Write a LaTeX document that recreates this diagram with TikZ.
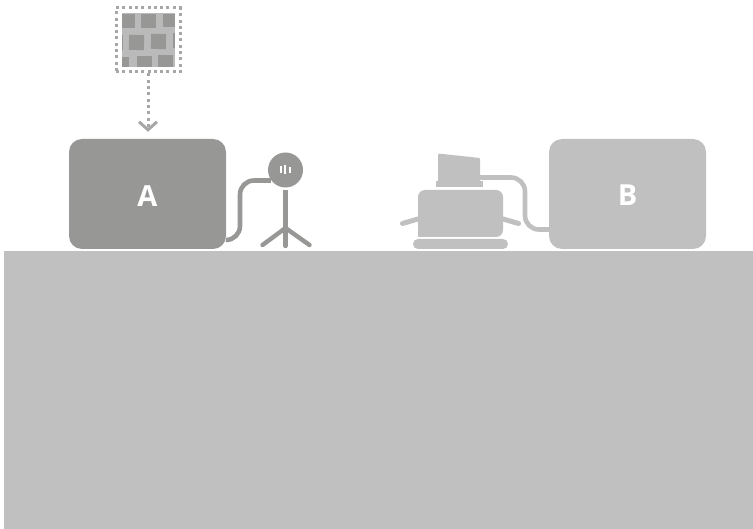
\documentclass[tikz,border=0pt]{standalone}
\usepackage{fontspec}
\setmainfont{Open Sans}
\usepackage{xcolor}
\usetikzlibrary{arrows.meta, positioning, calc}
\definecolor{darkgrey}{HTML}{979796}
\definecolor{lightgrey}{HTML}{C0C0C0}
\definecolor{tilegrey}{HTML}{BABABA}

\begin{document}
\begin{tikzpicture}[
  x=1pt, y=-1pt,
  device/.style={rectangle, rounded corners=13pt, minimum width=157pt, minimum height=110pt, inner sep=0pt, text=white, font=\fontsize{29}{29}\selectfont\bfseries},
  cable/.style={line width=4.6pt, rounded corners=14pt},
  tile/.style={rectangle, fill=darkgrey, inner sep=0pt},
  leg/.style={line width=4.4pt, draw=darkgrey, line cap=round},
  bar/.style={rectangle, fill=white, inner sep=0pt, minimum width=2pt},
  part/.style={rectangle, fill=lightgrey, inner sep=0pt}
]
  \useasboundingbox (0,0) rectangle (753,529);
  \node[rectangle, fill=lightgrey, inner sep=0pt, minimum width=749pt, minimum height=278pt] (ground) at (378.5,390) {};
  \node[device, fill=darkgrey, text height=25pt] (boxA) at (147.5,194) {A};
  \node[device, fill=lightgrey, text height=23pt] (boxB) at (627.5,194) {B};

  % texture card
  \node[rectangle, fill=tilegrey, inner sep=0pt, minimum width=53.5pt, minimum height=54pt] (card) at (148.7,40) {};
  \node[rectangle, draw=darkgrey!85!white, line width=3pt, dash pattern=on 3pt off 3.3pt, inner sep=0pt, minimum width=64pt, minimum height=64pt] (frame) at (148,40) {};
  \node[tile, minimum width=13pt, minimum height=14pt] (tileA) at (128.5,21) {};
  \node[tile, minimum width=15pt, minimum height=14pt] (tileB) at (148.3,21) {};
  \node[tile, minimum width=12pt, minimum height=13pt] (tileC) at (169,20.5) {};
  \node[tile, minimum width=1.5pt, minimum height=15pt] (tileD) at (122.7,42.5) {};
  \node[tile, minimum width=15pt, minimum height=15pt, rotate=-2] (tileE) at (136.5,42.5) {};
  \node[tile, minimum width=15pt, minimum height=15pt, rotate=-2] (tileF) at (158.5,41.5) {};
  \node[tile, minimum width=2.5pt, minimum height=15pt] (tileG) at (174.2,41) {};
  \node[tile, minimum width=7.5pt, minimum height=10pt] (tileH) at (125.7,62) {};
  \node[tile, minimum width=15pt, minimum height=10.5pt] (tileI) at (144.5,61.7) {};
  \node[tile, minimum width=15pt, minimum height=11.5pt] (tileJ) at (165.5,61.2) {};
  \draw[draw=darkgrey!85!white, line width=3pt, dash pattern=on 3pt off 3.3pt, shorten >=7pt, -{Straight Barb[length=8pt, width=18pt, line width=3pt]}] (frame.south) -- (boxA.north -| frame.south);

  % microphone
  \node[circle, fill=darkgrey, inner sep=0pt, minimum size=35pt] (micHead) at (285.5,170) {};
  \node[bar, minimum height=7pt] (barL) at (281,170) {};
  \node[bar, minimum height=9pt] (barM) at (285.3,170) {};
  \node[bar, minimum height=5.5pt] (barR) at (289.5,170) {};
  \coordinate (micTop) at (285.5,190);
  \coordinate (micJoin) at (285.5,228);
  \coordinate (legL) at (262.5,245);
  \coordinate (legM) at (285.5,246);
  \coordinate (legR) at (309.5,245);
  \draw[leg, line cap=butt, line width=5pt] (micTop) -- (micJoin);
  \draw[leg] (micJoin) -- (legL);
  \draw[leg] (micJoin) -- (legM);
  \draw[leg] (micJoin) -- (legR);
  \coordinate (kneeA) at (240,240);
  \draw[cable, draw=darkgrey] ([yshift=-46pt]boxA.east) -- (kneeA) |- ([xshift=3pt]micHead.west |- 0,180.5);

  % toaster
  \fill[lightgrey, rounded corners=7pt] (418,237) coordinate (bodySW) -- (418,190) -- (503,190) -- (503,237) coordinate (bodySE) [sharp corners] -- cycle;
  \node[part, rounded corners=5pt, minimum width=95pt, minimum height=10pt] (base) at (460.5,244) {};
  \node[part, minimum width=47pt, minimum height=6pt] (flange) at (459.2,184) {};
  \fill[lightgrey, rounded corners=1pt] (438,153.5) coordinate (slotNW) -- (480,158) -- (480,182) coordinate (slotSE) -- (438,182) -- cycle;
  \coordinate (armL) at (402.5,223.5);
  \coordinate (armR) at (518.5,223.5);
  \draw[line width=5pt, lightgrey, line cap=round] (bodySW |- 0,219) -- (armL);
  \draw[line width=5pt, lightgrey, line cap=round] (bodySE |- 0,219) -- (armR);
  \coordinate (kneeB) at (525,177.5);
  \draw[cable, draw=lightgrey] (slotSE |- kneeB) -- (kneeB) |- ([yshift=-35.5pt]boxB.west);
\end{tikzpicture}
\end{document}
